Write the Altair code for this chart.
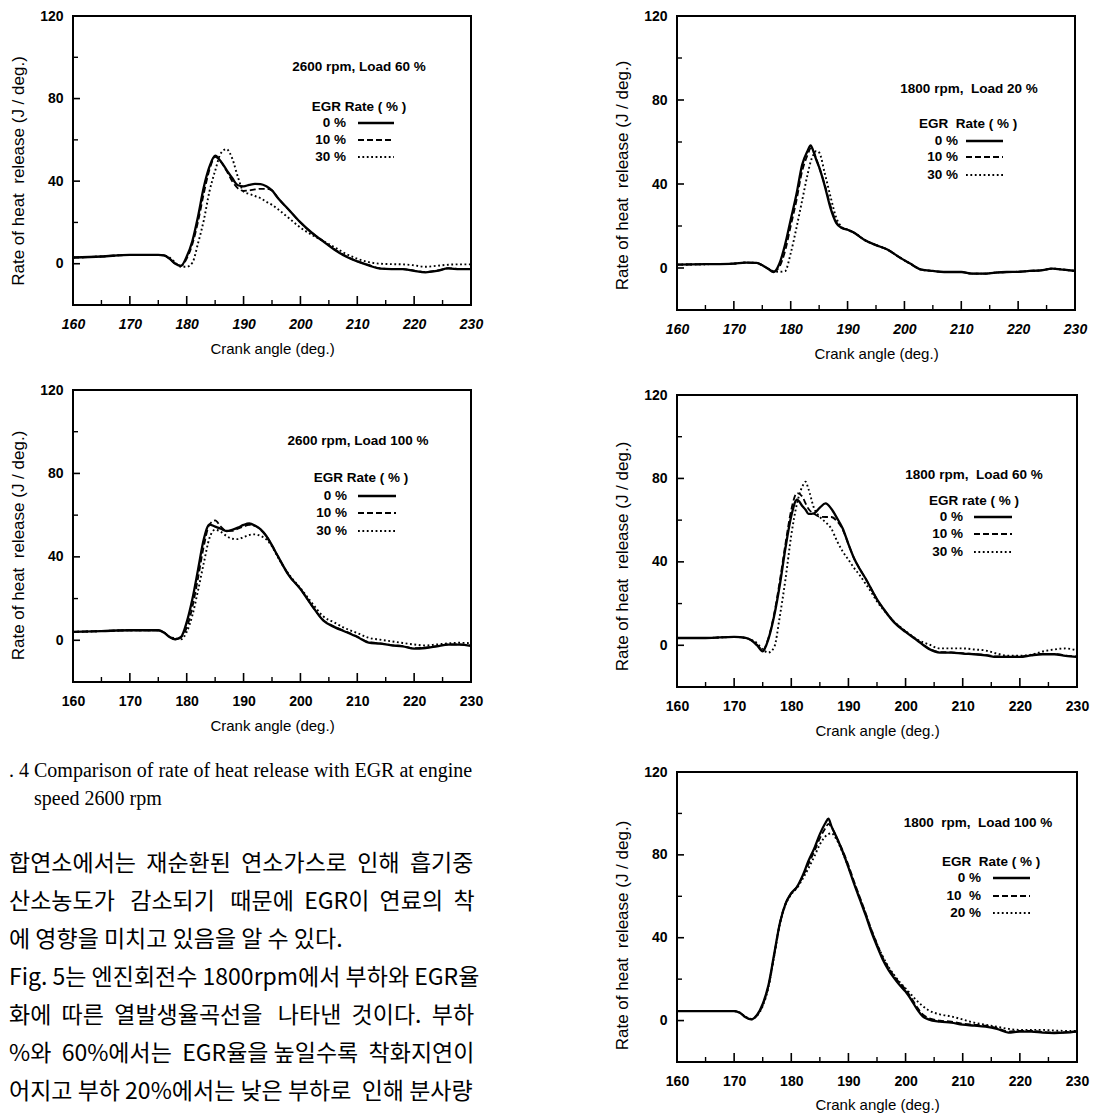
import altair as alt
import pandas as pd

FONT = "Liberation Sans"

X_TICKS = [160, 170, 180, 190, 200, 210, 220, 230]
X_MINOR = [165, 175, 185, 195, 205, 215, 225]
Y_LABELED = [0, 40, 80, 120]
Y_MINOR = [20, 60, 100]

# ---------------- Panel 1: 2600 rpm, Load 60 %
P1_X = [160, 165, 170, 175, 176, 177, 178, 179, 180, 181, 182, 183, 184, 185, 186, 187, 188, 189, 190, 191,
        192, 193, 194, 195, 196, 198, 200, 202, 204, 206, 208, 210, 212, 214, 216, 218, 220, 222, 224, 226, 228, 230]
P1_EGR0 = [3, 3.5, 4.3, 4.3, 4, 2.4, 0, -1, 3.5, 11, 23, 37, 47, 52.3, 49.5, 45.5, 41.5, 38, 37.5, 38.2,
           38.7, 38.6, 37.5, 35.5, 32, 26, 20, 15, 10.8, 6.8, 3.5, 1.1, -0.8, -2.4, -2.6, -2.6, -3.5, -4.2, -3.5, -2.3, -2.6, -2.6]
P1_EGR10 = [3, 3.5, 4.3, 4.3, 4, 2.4, 0, -1, 2.5, 9.5, 20.5, 34, 45.5, 51.8, 49.5, 45, 40, 36.5, 35.3, 35.5,
            36, 36.3, 36.3, 35.5, 32, 26, 20, 15, 11, 7, 3.7, 1.2, -0.6, -2.2, -2.5, -2.6, -3.3, -4, -3.3, -2.2, -2.5, -2.5]
P1_EGR30 = [3, 3.5, 4.3, 4.3, 4, 3, 0.5, -1.5, -1.5, 0.5, 10, 21, 35, 45, 53.5, 55.5, 51, 42, 35, 33.8,
            32.8, 31.7, 30, 28.5, 26.5, 22, 17.5, 14, 11, 8, 4.8, 2.4, 0.8, 0, -0.2, -0.3, -0.8, -1.5, -1, -0.5, -0.3, -0.3]

# ---------------- Panel 2: 2600 rpm, Load 100 %
P2_X = P1_X
P2_EGR0 = [4, 4.4, 4.8, 4.8, 3.7, 1.6, 0.5, 1.6, 8.7, 19.8, 34, 48.4, 55.5, 54.5, 53.5, 52.4, 53, 54, 55.3, 56,
           55, 53.2, 50, 45.5, 40.5, 31, 24.6, 16.7, 9.5, 6.3, 4, 1.6, -1.1, -1.6, -2.4, -2.9, -4, -3.7, -2.9, -2.1, -2.1, -2.7]
P2_EGR10 = [4, 4.4, 4.8, 4.8, 3.7, 1.6, 0.5, 1.5, 6, 16, 30, 45, 55.5, 57.5, 54.5, 52.5, 52.5, 53.5, 54.5, 55.3,
            54.8, 53, 50, 45.5, 40.5, 31, 24.6, 16.7, 9.8, 6.5, 4.2, 1.8, -0.9, -1.5, -2.3, -2.8, -3.8, -3.5, -2.8, -2, -2, -2.6]
P2_EGR30 = [4, 4.4, 4.8, 4.8, 3.7, 1.6, 1, 0.5, 4, 12, 24, 37, 49, 53, 52, 50, 48.7, 48.5, 49.5, 50.5,
            50.8, 50, 48.4, 45, 40, 31.5, 25, 18, 11.5, 8.5, 5.6, 3.5, 1.2, 0.3, -0.5, -1.3, -2, -2.5, -2, -1.5, -1.2, -1.4]

# ---------------- Panel 3: 1800 rpm, Load 20 %
P3_X = [160, 165, 170, 172, 174, 175, 176, 177, 178, 179, 180, 181, 182, 183, 183.5, 184, 184.5, 185, 186, 187,
        188, 189, 190, 191, 192, 193, 195, 197, 199, 201, 203, 205, 207, 210, 212, 214, 216, 218, 220, 222, 224, 226, 228, 230]
P3_EGR0 = [1.6, 1.8, 2.1, 2.6, 2.4, 1.3, -0.3, -1.9, 2, 11, 23, 35, 49, 56, 58.4, 55.5, 51.5, 48, 39, 28.5,
           21.5, 19, 18.2, 17, 15.2, 13.3, 10.9, 8.8, 5.3, 2.1, -0.8, -1.4, -1.9, -1.9, -2.7, -2.7, -2.2, -1.9, -1.8, -1.4, -1.1, -0.3, -0.8, -1.4]
P3_EGR10 = [1.6, 1.8, 2.1, 2.6, 2.4, 1.3, -0.3, -1.8, 0.5, 8, 20, 32, 46, 54, 57, 55.5, 52, 48, 39.5, 29.5,
            22, 19.2, 18.2, 17, 15.2, 13.3, 10.9, 8.8, 5.3, 2.1, -0.8, -1.4, -1.9, -1.9, -2.7, -2.7, -2.2, -1.9, -1.8, -1.4, -1.1, -0.3, -0.8, -1.4]
P3_EGR30 = [1.6, 1.8, 2.1, 2.6, 2.4, 1.3, -0.3, -1.5, -1.8, -1.5, 7, 19, 32, 45, 50.5, 54, 55.7, 55, 45, 34,
            24, 19.5, 18.2, 17, 15.2, 13.3, 10.9, 8.8, 5.3, 2.1, -0.8, -1.4, -1.9, -1.9, -2.7, -2.7, -2.2, -1.9, -1.8, -1.4, -1.1, -0.3, -0.8, -1.4]

# ---------------- Panel 4: 1800 rpm, Load 60 %
P4_X = [160, 165, 170, 172, 173, 174, 175, 176, 177, 178, 179, 180, 181, 182, 182.5, 183, 184, 185, 186, 187,
        188, 189, 190, 191, 192, 193, 194, 195, 196, 198, 200, 202, 204, 206, 208, 210, 212, 214, 216, 218,
        220, 222, 224, 226, 228, 230]
P4_EGR0 = [3.5, 3.5, 4, 3.5, 2.4, 0, -2.9, 3, 14, 29, 47, 62, 69.8, 66.5, 65, 63, 63.3, 66, 68, 65.5,
           61, 56, 48.5, 41.6, 36.5, 32, 27, 22, 18, 11, 6.4, 2.4, -1.6, -3.5, -3.5, -4, -4.3, -4.8, -5.6, -5.6,
           -5.6, -4.8, -4.3, -4.3, -5.1, -5.6]
P4_EGR10 = [3.5, 3.5, 4, 3.5, 2.4, 0.3, -2.2, 3.5, 15, 31, 49, 65, 73, 71, 68, 65.5, 63, 61.6, 61.5, 61.5,
            59.5, 55.5, 48.5, 41.6, 36.5, 32, 27, 22, 18, 11.2, 6.6, 2.6, -1.4, -3.3, -3.4, -3.8, -4.2, -4.6, -5.3, -5.4,
            -5.4, -4.6, -4.1, -4.1, -4.9, -5.4]
P4_EGR30 = [3.5, 3.5, 4, 3.5, 2.6, 1, -2, -3.5, -1, 14, 32, 52.8, 68, 76.5, 78.4, 75, 65.6, 61.6, 59, 56,
            50, 45, 41, 37, 33.5, 29.5, 25.5, 21, 17.5, 11.3, 6.8, 2.8, 0.5, -1.5, -1.5, -1.5, -2, -2.5, -4, -5,
            -5, -4.5, -3, -2, -1.5, -2.5]

# ---------------- Panel 5: 1800 rpm, Load 100 %
P5_X = [160, 165, 170, 171, 172, 173, 174, 175, 176, 177, 178, 179, 180, 181, 182, 183, 184, 185, 186, 186.5,
        187, 188, 189, 190, 191, 192, 193, 194, 195, 196, 197, 198, 199, 200, 201, 202, 203, 204, 206, 208,
        210, 212, 214, 216, 218, 220, 222, 224, 226, 228, 230]
P5_EGR0 = [4.6, 4.6, 4.6, 3.8, 1.6, 0.6, 2.7, 8, 17, 32, 47, 56.5, 61.5, 64.5, 70, 77, 83, 90, 95.5, 97.5,
           94, 88, 81.5, 74, 66, 58.5, 51, 43, 36, 29.5, 24.5, 20.5, 17, 14, 10, 5.5, 2, 0.6, -0.5, -1,
           -2, -2.4, -2.9, -4, -5.8, -5.3, -5.3, -5.8, -6, -5.8, -5.3]
P5_EGR10 = [4.6, 4.6, 4.6, 3.8, 1.6, 0.6, 2.5, 7.5, 16.5, 31.5, 47, 56.5, 61.5, 64.5, 69.5, 75.5, 81.5, 88, 93, 95,
            93.5, 88, 82, 75, 67, 59.5, 52, 44, 37, 30.5, 25.5, 21.5, 18, 15, 11, 6.5, 3, 1.3, 0, -0.5,
            -1.5, -2, -2.5, -3.6, -5.3, -5, -5, -5.5, -5.8, -5.6, -5.2]
P5_EGR20 = [4.6, 4.6, 4.6, 3.8, 1.8, 0.8, 2.3, 7, 16, 31, 46.5, 56, 61, 64, 68.5, 73.5, 79, 85, 89, 90,
            90.5, 87, 81, 74, 66.5, 59, 51.5, 44, 37, 31, 26, 22, 18.5, 15.5, 12.5, 9.5, 7, 5, 3, 2,
            0.5, -1, -2, -3, -4, -4.5, -4.5, -4.5, -4.8, -5, -5]

LEGEND_A = ["0 %", "10 %", "30 %"]
LEGEND_B = ["0 %", "10\u00a0 %", "20 %"]

NB = "\u00a0"
CAPTION = [". 4 Comparison of rate of heat release with EGR at engine", "speed 2600 rpm"]
KOREAN_LINES = [
    f"합연소에서는 {NB}재순환된 {NB}연소가스로 {NB}인해 {NB}흡기중",
    f"{NB}산소농도가 {NB}{NB}감소되기 {NB}{NB}때문에 {NB}EGR이 {NB}연료의 {NB}착",
    "에 영향을 미치고 있음을 알 수 있다.",
    "Fig. 5는 엔진회전수 1800rpm에서 부하와 EGR율",
    f"화에 {NB}따른 {NB}열발생율곡선을 {NB}{NB}나타낸 {NB}것이다. {NB}부하",
    f"%와 {NB}60%에서는 {NB}EGR율을 높일수록 {NB}착화지연이",
    f"어지고 부하 20%에서는 낮은 부하로 {NB}인해 분사량",
]

STYLES = [
    dict(strokeWidth=2.3),
    dict(strokeWidth=1.8, strokeDash=[6, 3]),
    dict(strokeWidth=1.9, strokeDash=[1.8, 2.6]),
]

ANN_SIZE = 13.5


def txt(text, x, y, align="center", size=ANN_SIZE, weight="bold"):
    return alt.Chart(pd.DataFrame({"t": [text]})).mark_text(
        font=FONT, fontSize=size, fontWeight=weight, align=align, baseline="middle", color="black"
    ).encode(text="t:N", x=alt.value(x), y=alt.value(y))


def panel(xs, series, cond, egr_title, leg, w, h, italic, pos, title_pad=10, ytitle_shift=10):
    x_scale = alt.Scale(domain=[160, 230], nice=False, zero=False)
    y_scale = alt.Scale(domain=[-20, 120], nice=False, zero=False)
    x_axis = alt.Axis(values=X_TICKS, format="d", title="Crank angle (deg.)",
                      labelFont=FONT, labelFontSize=14, labelFontWeight="bold",
                      labelFontStyle="italic" if italic else "normal", labelColor="black",
                      labelPadding=12, labelFlush=False, ticks=False, tickSize=0, domain=False, grid=False,
                      titleFont=FONT, titleFontSize=15, titleFontWeight="normal", titleColor="black",
                      titlePadding=title_pad)
    y_axis = alt.Axis(values=Y_LABELED, format="d", title="Rate of heat\u00a0 release (J / deg.)",
                      labelFont=FONT, labelFontSize=14, labelFontWeight="bold", labelColor="black",
                      labelPadding=10, ticks=False, tickSize=0, domain=False, grid=False,
                      titleFont=FONT, titleFontSize=17, titleFontWeight="normal", titleColor="black",
                      titlePadding=12, titleY=h / 2 + ytitle_shift)
    X = alt.X("x:Q", scale=x_scale, axis=x_axis)
    Y = alt.Y("y:Q", scale=y_scale, axis=y_axis)
    layers = []
    for ys, st in zip(series, STYLES):
        df = pd.DataFrame({"x": xs, "y": ys})
        layers.append(
            alt.Chart(df).mark_line(color="black", interpolate="monotone", clip=True, **st).encode(x=X, y=Y)
        )
    # inward ticks
    layers.append(alt.Chart(pd.DataFrame({"x": X_TICKS})).mark_rule(color="black", strokeWidth=1.6).encode(
        x=X, y=alt.value(h), y2=alt.value(h - 9)))
    layers.append(alt.Chart(pd.DataFrame({"x": X_MINOR})).mark_rule(color="black", strokeWidth=1.4).encode(
        x=X, y=alt.value(h), y2=alt.value(h - 5)))
    layers.append(alt.Chart(pd.DataFrame({"y": Y_LABELED})).mark_rule(color="black", strokeWidth=1.6).encode(
        y=Y, x=alt.value(0), x2=alt.value(7)))
    layers.append(alt.Chart(pd.DataFrame({"y": Y_MINOR})).mark_rule(color="black", strokeWidth=1.4).encode(
        y=Y, x=alt.value(0), x2=alt.value(5)))
    # annotations
    cx, cy, ex, ey, lx, ly, l1, l2 = pos
    layers.append(txt(cond, cx, cy))
    layers.append(txt(egr_title, ex, ey))
    for i, (lab, st) in enumerate(zip(leg, STYLES)):
        yy = ly[i]
        layers.append(txt(lab, lx, yy, align="right"))
        layers.append(alt.Chart(pd.DataFrame({"t": [lab]})).mark_rule(color="black", **st).encode(
            x=alt.value(l1), x2=alt.value(l2), y=alt.value(yy)))
    return alt.layer(*layers).properties(width=w, height=h)


p1 = panel(P1_X, [P1_EGR0, P1_EGR10, P1_EGR30], "2600 rpm, Load 60 %", "EGR Rate ( % )", LEGEND_A,
           398, 289, True, (286, 51, 286, 91, 273, [107, 124, 141], 285, 321), ytitle_shift=10)
p2 = panel(P2_X, [P2_EGR0, P2_EGR10, P2_EGR30], "2600 rpm, Load 100 %", "EGR Rate ( % )", LEGEND_A,
           398, 292, False, (285, 51, 288, 88, 274, [106, 123, 141], 285, 323), ytitle_shift=9)
p3 = panel(P3_X, [P3_EGR0, P3_EGR10, P3_EGR30], "1800 rpm,\u00a0 Load 20 %", "EGR\u00a0 Rate ( % )", LEGEND_A,
           398, 294, True, (292, 73, 291, 108, 281, [125, 141, 159], 289, 326), ytitle_shift=12)
p4 = panel(P4_X, [P4_EGR0, P4_EGR10, P4_EGR30], "1800 rpm,\u00a0 Load 60 %", "EGR rate ( % )", LEGEND_A,
           400, 292, False, (297, 80, 297, 106, 286, [122, 139, 157], 297, 335), ytitle_shift=15)
p5 = panel(P5_X, [P5_EGR0, P5_EGR10, P5_EGR20], "1800\u00a0 rpm,\u00a0 Load 100 %", "EGR\u00a0 Rate ( % )", LEGEND_B,
           400, 290, False, (301, 51, 314, 90, 304, [106, 124, 141], 316, 353), title_pad=9, ytitle_shift=18)

TEXT_X0 = -64  # text block starts at the page's left edge, under the y-axis titles
cap1 = alt.Chart(pd.DataFrame({"t": [CAPTION[0]]})).mark_text(
    font="Liberation Serif", fontSize=20, align="left", baseline="alphabetic", color="black"
).encode(text="t:N", x=alt.value(TEXT_X0), y=alt.value(18))
cap2 = alt.Chart(pd.DataFrame({"t": [CAPTION[1]]})).mark_text(
    font="Liberation Serif", fontSize=20, align="left", baseline="alphabetic", color="black"
).encode(text="t:N", x=alt.value(TEXT_X0 + 25), y=alt.value(46))
kor = alt.Chart(pd.DataFrame({"i": list(range(len(KOREAN_LINES))), "line": KOREAN_LINES})).mark_text(
    font="Noto Sans CJK KR", fontSize=23, align="left", baseline="middle", color="black"
).encode(
    text="line:N",
    x=alt.value(TEXT_X0),
    y=alt.Y("i:Q", scale=alt.Scale(domain=[0, 6], range=[105, 333]), axis=None),
)
text_block = alt.layer(cap1, cap2, kor).properties(
    width=398, height=320, view=alt.ViewBackground(strokeOpacity=0)
)

left = alt.vconcat(p1, p2, text_block, spacing=25)
right = alt.vconcat(p3, p4, p5, spacing=25)

chart = alt.hconcat(left, right, spacing=128).properties(
    padding={"left": 0, "top": 0, "right": 0, "bottom": 0}, background="white"
).configure_view(stroke="black", strokeWidth=2)

chart.save("out.html", embed_options={"renderer": "svg", "actions": False})
